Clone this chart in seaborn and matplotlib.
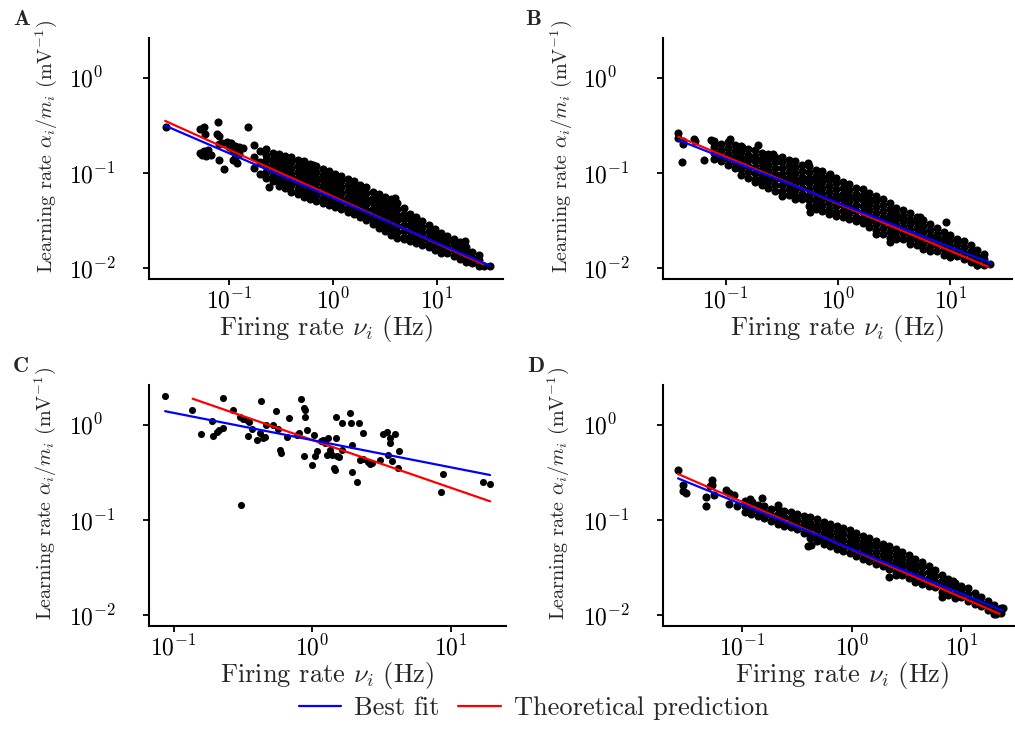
import numpy as np
import pandas as pd
import matplotlib

matplotlib.use('Agg')
import matplotlib.pyplot as plt
from matplotlib.lines import Line2D
from matplotlib.ticker import FixedLocator, LogFormatterSciNotation, NullLocator
import seaborn as sns

# all values are log10 of firing rate (Hz) and learning rate (1/mV)

# panel A: dense cloud, one list of log10 learning rates per log10 rate column
a_cols = [-0.76, -0.70, -0.64, -0.58, -0.52, -0.46, -0.40, -0.34, -0.28, -0.22, -0.16, -0.10,
          -0.04, 0.02, 0.08, 0.14, 0.20, 0.26, 0.32, 0.38, 0.44, 0.50, 0.56, 0.62, 0.68, 0.74,
          0.80, 0.86, 0.92, 0.98, 1.04, 1.10, 1.16, 1.22, 1.28, 1.34, 1.40]
a_cloud = [
    [-0.71, -0.83, -0.95],
    [-0.77, -0.89, -1.01],
    [-0.75, -0.81, -0.87, -0.93, -0.99, -1.05],
    [-0.79, -0.85, -0.91, -0.97, -1.03, -1.09],
    [-0.80, -0.86, -0.92, -0.98, -1.04, -1.10, -1.14],
    [-0.82, -0.88, -0.94, -1.00, -1.06, -1.12, -1.16],
    [-0.83, -0.89, -0.95, -1.01, -1.07, -1.13, -1.20],
    [-0.87, -0.93, -0.99, -1.05, -1.11, -1.17, -1.22],
    [-0.88, -0.94, -1.00, -1.06, -1.12, -1.18, -1.25],
    [-0.91, -0.97, -1.03, -1.09, -1.15, -1.21, -1.28],
    [-0.93, -0.99, -1.05, -1.11, -1.17, -1.23, -1.30],
    [-0.96, -1.02, -1.08, -1.14, -1.20, -1.26, -1.32],
    [-0.98, -1.04, -1.10, -1.16, -1.22, -1.28, -1.34],
    [-1.01, -1.07, -1.13, -1.19, -1.25, -1.31, -1.36],
    [-1.03, -1.09, -1.15, -1.21, -1.27, -1.33, -1.38],
    [-1.07, -1.13, -1.19, -1.25, -1.31, -1.37, -1.41],
    [-1.09, -1.15, -1.21, -1.27, -1.33, -1.39, -1.43],
    [-1.13, -1.19, -1.25, -1.31, -1.37, -1.43, -1.46],
    [-1.15, -1.21, -1.27, -1.33, -1.39, -1.45, -1.50],
    [-1.20, -1.26, -1.32, -1.38, -1.44, -1.50, -1.54],
    [-1.22, -1.28, -1.34, -1.40, -1.46, -1.52, -1.58],
    [-1.25, -1.31, -1.37, -1.43, -1.49, -1.55, -1.61],
    [-1.28, -1.34, -1.40, -1.46, -1.52, -1.58, -1.65],
    [-1.32, -1.38, -1.44, -1.50, -1.56, -1.62, -1.68],
    [-1.37, -1.43, -1.49, -1.55, -1.61, -1.67, -1.70],
    [-1.43, -1.49, -1.55, -1.61, -1.67, -1.72],
    [-1.46, -1.52, -1.58, -1.64, -1.70, -1.74],
    [-1.51, -1.57, -1.63, -1.69, -1.76],
    [-1.55, -1.61, -1.67, -1.73, -1.78],
    [-1.59, -1.65, -1.71, -1.77, -1.81],
    [-1.63, -1.69, -1.75, -1.81, -1.84],
    [-1.66, -1.72, -1.78, -1.84],
    [-1.69, -1.75, -1.81, -1.87],
    [-1.73, -1.79, -1.85, -1.90],
    [-1.78, -1.84, -1.90, -1.94],
    [-1.83, -1.89, -1.95],
    [-1.86, -1.92, -1.98],
]
a_loose_x = [-1.61, -1.28, -1.24, -1.11, -0.82, -1.23, -1.12, -1.10, -1.28, -1.24, -1.20, -1.17,
             -1.22, -1.26, -1.10, -1.07, -1.02, -0.98, -1.00, -0.96, -0.94, -0.90, -0.87, -0.90,
             -0.94, -1.10, -1.05, -0.96, -0.92, -0.62, -0.19, 0.60, 1.27, 1.51, 1.45]
a_loose_y = [-0.52, -0.54, -0.52, -0.47, -0.52, -0.59, -0.59, -0.61, -0.79, -0.77, -0.76, -0.81,
             -0.82, -0.81, -0.70, -0.69, -0.68, -0.69, -0.73, -0.77, -0.72, -0.73, -0.74, -0.80,
             -0.84, -0.87, -0.96, -0.87, -0.90, -1.15, -0.92, -1.26, -1.72, -1.98, -1.98]
a_fit = ([-1.615, 1.51], [-0.505, -1.975])
a_theory = ([-1.615, 1.445], [-0.455, -1.96])

# panel B
b_cols = [-1.10, -1.04, -0.98, -0.92, -0.86, -0.80, -0.74, -0.68, -0.62, -0.56, -0.50, -0.44,
          -0.38, -0.32, -0.26, -0.20, -0.14, -0.08, -0.02, 0.04, 0.10, 0.16, 0.22, 0.28, 0.34,
          0.40, 0.46, 0.52, 0.58, 0.64, 0.70, 0.76, 0.82, 0.88, 0.94, 1.00, 1.06, 1.12, 1.18,
          1.24, 1.30]
b_cloud = [
    [-0.67, -0.73, -0.79, -0.85],
    [-0.70, -0.76, -0.82, -0.88],
    [-0.68, -0.74, -0.80, -0.86, -0.92],
    [-0.71, -0.77, -0.83, -0.89, -0.95],
    [-0.72, -0.78, -0.84, -0.90, -0.96, -1.02],
    [-0.75, -0.81, -0.87, -0.93, -0.99, -1.05],
    [-0.76, -0.82, -0.88, -0.94, -1.00, -1.06, -1.10],
    [-0.79, -0.85, -0.91, -0.97, -1.03, -1.09, -1.13],
    [-0.80, -0.86, -0.92, -0.98, -1.04, -1.10, -1.16],
    [-0.83, -0.89, -0.95, -1.01, -1.07, -1.13, -1.19],
    [-0.83, -0.89, -0.95, -1.01, -1.07, -1.13, -1.19, -1.24],
    [-0.87, -0.93, -0.99, -1.05, -1.11, -1.17, -1.23],
    [-0.88, -0.94, -1.00, -1.06, -1.12, -1.18, -1.24, -1.28],
    [-0.92, -0.98, -1.04, -1.10, -1.16, -1.22, -1.28],
    [-0.93, -0.99, -1.05, -1.11, -1.17, -1.23, -1.29, -1.35],
    [-0.97, -1.03, -1.09, -1.15, -1.21, -1.27, -1.33, -1.38],
    [-0.98, -1.04, -1.10, -1.16, -1.22, -1.28, -1.34, -1.40],
    [-1.02, -1.08, -1.14, -1.20, -1.26, -1.32, -1.38, -1.43],
    [-1.05, -1.11, -1.17, -1.23, -1.29, -1.35, -1.41, -1.45],
    [-1.10, -1.16, -1.22, -1.28, -1.34, -1.40, -1.46],
    [-1.12, -1.18, -1.24, -1.30, -1.36, -1.42, -1.48],
    [-1.16, -1.22, -1.28, -1.34, -1.40, -1.46, -1.51],
    [-1.17, -1.23, -1.29, -1.35, -1.41, -1.47, -1.53],
    [-1.21, -1.27, -1.33, -1.39, -1.45, -1.51, -1.57],
    [-1.24, -1.30, -1.36, -1.42, -1.48, -1.54, -1.60, -1.64],
    [-1.28, -1.34, -1.40, -1.46, -1.52, -1.58, -1.64],
    [-1.32, -1.38, -1.44, -1.50, -1.56, -1.62, -1.68],
    [-1.37, -1.43, -1.49, -1.55, -1.61, -1.67, -1.70],
    [-1.39, -1.45, -1.51, -1.57, -1.63, -1.69],
    [-1.42, -1.48, -1.54, -1.60, -1.66, -1.72, -1.75],
    [-1.46, -1.52, -1.58, -1.64, -1.70, -1.76],
    [-1.50, -1.56, -1.62, -1.68, -1.74, -1.80],
    [-1.54, -1.60, -1.66, -1.72, -1.78, -1.82],
    [-1.58, -1.64, -1.70, -1.76, -1.82],
    [-1.62, -1.68, -1.74, -1.80, -1.86],
    [-1.65, -1.71, -1.77, -1.83, -1.88],
    [-1.69, -1.75, -1.81, -1.87],
    [-1.72, -1.78, -1.84, -1.90],
    [-1.76, -1.82, -1.88, -1.94],
    [-1.81, -1.87, -1.93, -1.97],
    [-1.85, -1.91, -1.97],
]
b_loose_x = [-1.42, -1.42, -1.38, -1.39, -1.28, -1.27, -1.19, -1.13, -1.10, -0.96, -0.85, -0.71,
             -0.58, -0.27, -0.25, -0.07, 0.46, 0.73, 0.96, 1.24, 1.35, -1.38]
b_loose_y = [-0.585, -0.64, -0.67, -0.89, -0.65, -0.67, -0.87, -0.655, -0.69, -0.65, -0.73, -0.71,
             -0.80, -0.90, -1.41, -1.01, -1.73, -1.46, -1.52, -1.97, -1.96, -0.70]
b_fit = ([-1.42, 1.363], [-0.656, -1.95])
b_theory = ([-1.42, 1.333], [-0.621, -1.985])

# panel C: few neurons, every point listed
c_rate = [-1.061, -0.869, -0.804, -0.724, -0.713, -0.688, -0.669, -0.640, -0.645, -0.573,
          -0.520, -0.496, -0.472, -0.453, -0.460, -0.435, -0.395, -0.375, -0.351, -0.339,
          -0.370, -0.332, -0.284, -0.260, -0.243, -0.231, -0.226, -0.183, -0.164, -0.110,
          -0.091, -0.082, -0.058, -0.051, -0.051, -0.039, -0.055, 0.002, 0.017, 0.022,
          0.034, 0.063, 0.077, 0.094, 0.118, 0.106, 0.130, 0.142, 0.159, 0.173,
          0.173, 0.166, 0.178, 0.197, 0.214, 0.214, 0.274, 0.279, 0.287, 0.287,
          0.327, 0.342, 0.347, 0.366, 0.371, 0.407, 0.419, 0.431, 0.491, 0.515,
          0.539, 0.546, 0.563, 0.563, 0.575, 0.599, 0.630, 0.623, 0.948, 0.929,
          1.237, 1.285, -0.515]
c_lr = [0.295, 0.150, -0.098, 0.036, -0.119, -0.074, -0.057, -0.040, 0.278, 0.150,
        0.074, 0.053, 0.047, 0.029, -0.116, -0.050, -0.161, -0.091, -0.143, -0.126,
        0.244, -0.005, -0.005, 0.143, -0.047, -0.264, -0.299, -0.126, 0.071, -0.109,
        -0.091, 0.264, 0.174, 0.150, 0.074, -0.057, -0.326, -0.420, -0.109, -0.334,
        -0.282, -0.178, -0.161, -0.195, -0.143, -0.316, -0.264, -0.323, -0.454, -0.137,
        0.074, -0.482, -0.334, -0.344, -0.264, 0.012, 0.116, 0.012, -0.212, -0.500,
        -0.603, 0.012, -0.368, -0.091, -0.358, -0.392, -0.413, -0.402, -0.368, -0.102,
        -0.074, -0.316, -0.143, -0.195, -0.378, -0.102, -0.275, -0.461, -0.516, -0.707,
        -0.599, -0.620, -0.841]
c_fit = ([-1.061, 1.285], [0.14, -0.53])
c_theory = ([-0.862, 1.285], [0.271, -0.806])

# panel D
d_cols = [-0.98, -0.92, -0.86, -0.80, -0.74, -0.68, -0.62, -0.56, -0.50, -0.44, -0.38, -0.32,
          -0.26, -0.20, -0.14, -0.08, -0.02, 0.04, 0.10, 0.16, 0.22, 0.28, 0.34, 0.40, 0.46,
          0.52, 0.58, 0.64, 0.70, 0.76, 0.82, 0.88, 0.94, 1.00, 1.06, 1.12, 1.18, 1.24, 1.30,
          1.36]
d_cloud = [
    [-0.80, -0.86, -0.92],
    [-0.83, -0.89, -0.94],
    [-0.84, -0.90, -0.96],
    [-0.86, -0.92, -0.98],
    [-0.89, -0.95, -1.01],
    [-0.88, -0.94, -1.00, -1.04],
    [-0.91, -0.97, -1.03, -1.06],
    [-0.92, -0.98, -1.04, -1.08],
    [-0.94, -1.00, -1.06, -1.10],
    [-0.96, -1.02, -1.08, -1.14],
    [-0.97, -1.03, -1.09, -1.15, -1.19],
    [-0.99, -1.05, -1.11, -1.17, -1.22],
    [-1.02, -1.08, -1.14, -1.20, -1.25],
    [-1.04, -1.10, -1.16, -1.22, -1.28],
    [-1.07, -1.13, -1.19, -1.25, -1.31],
    [-1.09, -1.15, -1.21, -1.27, -1.33],
    [-1.11, -1.17, -1.23, -1.29, -1.35],
    [-1.14, -1.20, -1.26, -1.32, -1.38],
    [-1.17, -1.23, -1.29, -1.35, -1.41],
    [-1.19, -1.25, -1.31, -1.37, -1.43],
    [-1.22, -1.28, -1.34, -1.40, -1.46],
    [-1.25, -1.31, -1.37, -1.43, -1.49],
    [-1.28, -1.34, -1.40, -1.46, -1.52],
    [-1.31, -1.37, -1.43, -1.49, -1.55, -1.58],
    [-1.34, -1.40, -1.46, -1.52, -1.58],
    [-1.37, -1.43, -1.49, -1.55, -1.61],
    [-1.41, -1.47, -1.53, -1.59, -1.65],
    [-1.44, -1.50, -1.56, -1.62, -1.67],
    [-1.49, -1.55, -1.61, -1.67, -1.70],
    [-1.53, -1.59, -1.65, -1.71],
    [-1.58, -1.64, -1.70, -1.76],
    [-1.62, -1.68, -1.74, -1.79],
    [-1.66, -1.72, -1.78, -1.82],
    [-1.69, -1.75, -1.81],
    [-1.72, -1.78, -1.85],
    [-1.77, -1.83, -1.88],
    [-1.81, -1.87, -1.91],
    [-1.85, -1.91, -1.95],
    [-1.89, -1.95, -1.99],
    [-1.93, -1.98],
]
d_loose_x = [-1.59, -1.54, -1.54, -1.52, -1.33, -1.33, -1.28, -1.28, -1.30, -1.26, -1.15, -1.12,
             -1.08, -1.12, -1.05, -0.93, -0.91, -0.82, -0.68, -0.40, -0.37, -0.10, 0.34, 0.92,
             0.82, 1.38, 1.32]
d_loose_y = [-0.48, -0.63, -0.70, -0.72, -0.76, -0.86, -0.585, -0.63, -0.65, -0.745, -0.69, -0.72,
             -0.745, -0.83, -0.86, -0.78, -0.81, -0.77, -0.845, -1.28, -1.26, -1.11, -1.60, -1.64,
             -1.81, -1.93, -1.99]
d_fit = ([-1.589, 1.379], [-0.565, -1.953])
d_theory = ([-1.589, 1.349], [-0.519, -1.988])


def columns(cols, cloud, loose_x, loose_y):
    lx = [c for c, col in zip(cols, cloud) for _ in col] + loose_x
    ly = [v for col in cloud for v in col] + loose_y
    return lx, ly


sns.set_style('ticks')
plt.rcParams['font.family'] = ['cmr10', 'DejaVu Serif']
plt.rcParams['mathtext.fontset'] = 'cm'
plt.rcParams['axes.formatter.use_mathtext'] = True

fig = plt.figure(figsize=(10.15, 7.43), dpi=100)
W, H = 1015, 743


def panel(box, lx, ly, fit, theory, xlim, letter, letter_xy, dot=34):
    left, top, right, bottom = box
    ax = fig.add_axes([left / W, 1 - bottom / H, (right - left) / W, (bottom - top) / H])
    ax.set(xscale='log', yscale='log')
    df = pd.DataFrame({'rate': 10.0 ** np.array(lx), 'lr': 10.0 ** np.array(ly)})
    sns.scatterplot(data=df, x='rate', y='lr', ax=ax, color='black', s=dot, linewidth=0,
                    legend=False, zorder=2)
    sns.lineplot(x=10.0 ** np.array(theory[0]), y=10.0 ** np.array(theory[1]), ax=ax,
                 color='#ff0000', lw=1.6, zorder=3)
    sns.lineplot(x=10.0 ** np.array(fit[0]), y=10.0 ** np.array(fit[1]), ax=ax,
                 color='#0000ff', lw=1.6, zorder=4)
    ax.set_xlim(10 ** xlim[0], 10 ** xlim[1])
    ax.set_ylim(10 ** -2.115, 10 ** 0.415)
    ax.xaxis.set_major_locator(FixedLocator([0.1, 1, 10]))
    ax.yaxis.set_major_locator(FixedLocator([0.01, 0.1, 1]))
    ax.xaxis.set_minor_locator(NullLocator())
    ax.yaxis.set_minor_locator(NullLocator())
    ax.xaxis.set_major_formatter(LogFormatterSciNotation())
    ax.yaxis.set_major_formatter(LogFormatterSciNotation())
    sns.despine(ax=ax)
    for s in ['left', 'bottom']:
        ax.spines[s].set_linewidth(1.5)
        ax.spines[s].set_color('black')
    ax.tick_params(length=4.5, width=1.3, color='black', labelsize=17, labelcolor='black')
    ax.tick_params(axis='x', pad=2)
    ax.tick_params(axis='y', pad=53)
    plt.setp(ax.get_yticklabels(), ha='left')
    ax.set_xlabel(r'Firing rate $\nu_i$ (Hz)', fontsize=19)
    ax.set_ylabel(r'Learning rate $\alpha_i/m_i$ (mV$^{-1}$)', fontsize=14.5)
    ax.xaxis.set_label_coords(0.5, -0.14)
    ax.yaxis.set_label_coords(-0.255, 0.55)
    fig.text(letter_xy[0] / W, 1 - letter_xy[1] / H, letter, family='cmb10', fontsize=16,
             va='baseline', ha='left')
    return ax


panel((149, 38, 503, 279), *columns(a_cols, a_cloud, a_loose_x, a_loose_y), a_fit, a_theory,
      (-1.77, 1.635), 'A', (13, 25))
panel((663, 38, 1012, 279), *columns(b_cols, b_cloud, b_loose_x, b_loose_y), b_fit, b_theory,
      (-1.556, 1.547), 'B', (525, 25))
panel((149, 385, 506, 626), c_rate, c_lr, c_fit, c_theory,
      (-1.177, 1.40), 'C', (13, 372), dot=26)
panel((663, 385, 1022, 626), *columns(d_cols, d_cloud, d_loose_x, d_loose_y), d_fit, d_theory,
      (-1.726, 1.553), 'D', (527, 372))

handles = [Line2D([], [], color='#0000ff', lw=1.6), Line2D([], [], color='#ff0000', lw=1.6)]
fig.legend(handles, ['Best fit', 'Theoretical prediction'], loc='center',
           bbox_to_anchor=(0.526, 1 - 708 / H), ncol=2, frameon=False, fontsize=19,
           handlelength=1.6, handletextpad=0.5, columnspacing=0.7)

fig.savefig('out.png', dpi=100)
